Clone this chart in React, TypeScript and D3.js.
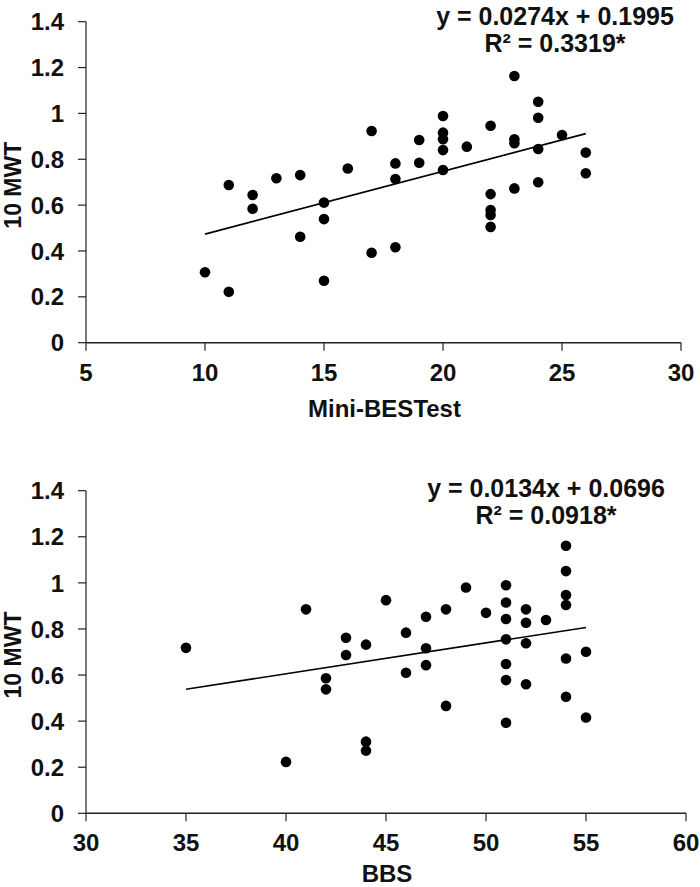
import React from "react";
import * as d3 from "d3";

// Mini-BESTest vs 10 MWT
const miniX = [10, 11, 11, 12, 12, 13, 14, 14, 15, 15, 15, 16, 17, 17, 18, 18, 18, 19, 19, 20, 20, 20, 20, 20, 21, 22, 22, 22, 22, 22, 23, 23, 23, 23, 24, 24, 24, 24, 25, 26, 26];
const miniY = [0.307, 0.688, 0.222, 0.644, 0.584, 0.717, 0.731, 0.462, 0.611, 0.539, 0.27, 0.76, 0.923, 0.392, 0.782, 0.714, 0.416, 0.884, 0.785, 0.989, 0.916, 0.887, 0.84, 0.753, 0.855, 0.946, 0.648, 0.579, 0.557, 0.505, 1.163, 0.887, 0.87, 0.673, 1.051, 0.981, 0.845, 0.7, 0.906, 0.829, 0.739];

// BBS vs 10 MWT
const bbsX = [35, 40, 41, 42, 42, 43, 43, 44, 44, 44, 45, 46, 46, 47, 47, 47, 48, 48, 49, 50, 51, 51, 51, 51, 51, 51, 51, 52, 52, 52, 52, 53, 54, 54, 54, 54, 54, 54, 55, 55];
const bbsY = [0.718, 0.223, 0.885, 0.586, 0.538, 0.762, 0.687, 0.732, 0.311, 0.272, 0.925, 0.784, 0.61, 0.853, 0.716, 0.643, 0.885, 0.466, 0.98, 0.87, 0.99, 0.915, 0.843, 0.755, 0.648, 0.578, 0.393, 0.885, 0.827, 0.738, 0.56, 0.839, 1.161, 1.051, 0.947, 0.904, 0.672, 0.506, 0.701, 0.416];

const yTicks = [0, 0.2, 0.4, 0.6, 0.8, 1, 1.2, 1.4];
const miniTicks = [5, 10, 15, 20, 25, 30];
const bbsTicks = [30, 35, 40, 45, 50, 55, 60];

const FONT = "'Liberation Sans', Arial, sans-serif";

type PanelProps = {
  xs: number[];
  ys: number[];
  xDomain: [number, number];
  xTicks: number[];
  xRange: [number, number];
  yRange: [number, number];
  slope: number;
  intercept: number;
  fitRange: [number, number];
  eq: string;
  r2: string;
  eqX: number;
  eqY: number;
  xTitle: string;
  xTitleDy: number;
};

const Panel = (p: PanelProps) => {
  const x = d3.scaleLinear().domain(p.xDomain).range(p.xRange);
  const y = d3.scaleLinear().domain([0, 1.4]).range(p.yRange);
  const y0 = y(0);
  const x0 = p.xRange[0];

  const fit = d3
    .line<number>()
    .x((d) => x(d))
    .y((d) => y(p.slope * d + p.intercept));

  const pts = p.xs.map((v, i) => [v, p.ys[i]]);

  return (
    <g fontFamily={FONT} fontWeight="bold" fill="#111">
      {/* y axis */}
      <line x1={x0} x2={x0} y1={y(1.4)} y2={y0} stroke="#222" strokeWidth={1.2} />
      {yTicks.map((t) => (
        <g key={"y" + t}>
          <line x1={x0 - 8} x2={x0} y1={y(t)} y2={y(t)} stroke="#222" strokeWidth={1.2} />
          <text x={x0 - 22} y={y(t)} dy="0.36em" textAnchor="end" fontSize={24}>
            {t}
          </text>
        </g>
      ))}
      {/* x axis */}
      <line x1={x0} x2={p.xRange[1]} y1={y0} y2={y0} stroke="#222" strokeWidth={1.4} />
      {p.xTicks.map((t) => (
        <g key={"x" + t}>
          <line x1={x(t)} x2={x(t)} y1={y0} y2={y0 + 8} stroke="#222" strokeWidth={1.2} />
          <text x={x(t)} y={y0 + 38} textAnchor="middle" fontSize={24}>
            {t}
          </text>
        </g>
      ))}
      <text
        transform={`translate(21,${(y(1.4) + y0) / 2 + 3}) rotate(-90)`}
        textAnchor="middle"
        fontSize={23}
      >
        10 MWT
      </text>
      <text x={(p.xRange[0] + p.xRange[1]) / 2 + 1} y={y0 + p.xTitleDy} textAnchor="middle" fontSize={24}>
        {p.xTitle}
      </text>

      {/* trend line */}
      <path d={fit(p.fitRange) || ""} fill="none" stroke="#000" strokeWidth={1.6} />

      {pts.map((d, i) => (
        <circle key={i} cx={x(d[0])} cy={y(d[1])} r={5.3} fill="#000" />
      ))}

      <text x={p.eqX} y={p.eqY} textAnchor="middle" fontSize={25}>
        {p.eq}
      </text>
      <text x={p.eqX} y={p.eqY + 27} textAnchor="middle" fontSize={25}>
        {p.r2}
      </text>
    </g>
  );
};

export default function App() {
  return (
    <svg
      width={700}
      height={887}
      style={{ position: "absolute", left: 0, top: 0, background: "#fff" }}
    >
      <rect width={700} height={887} fill="#fff" />
      <Panel
        xs={miniX}
        ys={miniY}
        xDomain={[5, 30]}
        xTicks={miniTicks}
        xRange={[86, 681]}
        yRange={[342.7, 21.7]}
        slope={0.0274}
        intercept={0.1995}
        fitRange={[10, 26]}
        eq="y = 0.0274x + 0.1995"
        r2="R² = 0.3319*"
        eqX={555}
        eqY={25}
        xTitle="Mini-BESTest"
        xTitleDy={74}
      />
      <Panel
        xs={bbsX}
        ys={bbsY}
        xDomain={[30, 60]}
        xTicks={bbsTicks}
        xRange={[86, 686]}
        yRange={[813.3, 490.7]}
        slope={0.0134}
        intercept={0.0696}
        fitRange={[35, 55]}
        eq="y = 0.0134x + 0.0696"
        r2="R² = 0.0918*"
        eqX={546}
        eqY={497}
        xTitle="BBS"
        xTitleDy={69}
      />
    </svg>
  );
}
